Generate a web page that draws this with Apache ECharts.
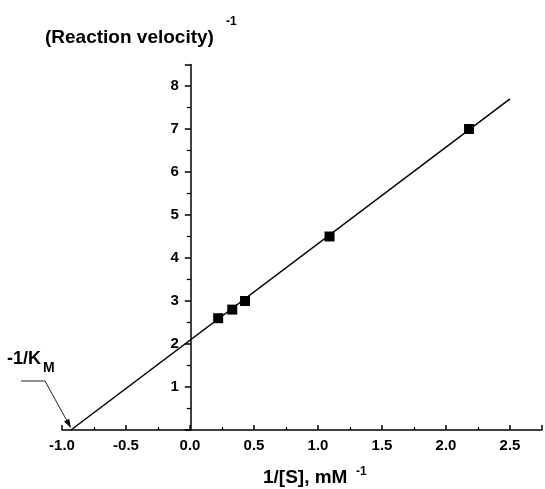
<!DOCTYPE html>
<html>
<head>
<meta charset="utf-8">
<script src="https://cdn.jsdelivr.net/npm/echarts@6/dist/echarts.min.js"></script>
<style>
  html, body { margin: 0; padding: 0; background: #fff; }
  #chart { width: 545px; height: 489px; }
</style>
</head>
<body>
<div id="chart"></div>
<script>
// Lineweaver-Burk data
const invSubstrate = [0.22, 0.33, 0.43, 1.09, 2.18];
const invVelocity = [2.6, 2.8, 3.0, 4.5, 7.0];
// fitted line end points
const fitX = [-0.93, 2.5];
const fitY = [0, 7.7];
const kmIntercept = -0.93;

const FONT = "'Liberation Sans', Arial, sans-serif";
const X_MIN = -1, X_MAX = 2.75;
const GRID_LEFT = 62, GRID_RIGHT = 0;
const W = 545;

// y axis sits at x = 0, so shift it right from the grid edge
const yShift = (W - GRID_LEFT - GRID_RIGHT) / (X_MAX - X_MIN) * (0 - X_MIN);

const chart = echarts.init(document.getElementById("chart"));

const option = {
  backgroundColor: "#fff",
  animation: false,
  grid: { left: GRID_LEFT, right: GRID_RIGHT, top: 64.5, bottom: 59 },
  xAxis: {
    type: "value",
    min: X_MIN,
    max: X_MAX,
    interval: 0.5,
    axisLine: { onZero: true, lineStyle: { color: "#000", width: 1.5 } },
    axisTick: { inside: true, length: 5, lineStyle: { color: "#000", width: 1.5 } },
    minorTick: { show: true, splitNumber: 2, length: 3, lineStyle: { color: "#000", width: 1.2 } },
    splitLine: { show: false },
    axisLabel: {
      margin: 8,
      color: "#000",
      fontSize: 15,
      fontWeight: "bold",
      fontFamily: FONT,
      formatter: (v) => (Math.abs(v * 2 - Math.round(v * 2)) < 1e-6 ? v.toFixed(1) : "")
    }
  },
  yAxis: {
    type: "value",
    min: 0,
    max: 8.5,
    interval: 1,
    offset: -yShift,
    axisLine: { onZero: false, lineStyle: { color: "#000", width: 1.5 } },
    axisTick: { inside: false, length: 6, lineStyle: { color: "#000", width: 1.5 } },
    minorTick: { show: true, splitNumber: 2, length: 4, lineStyle: { color: "#000", width: 1.2 } },
    splitLine: { show: false },
    axisLabel: {
      margin: 12,
      color: "#000",
      fontSize: 15,
      fontWeight: "bold",
      fontFamily: FONT,
      formatter: (v) => (v > 0 && Math.abs(v - Math.round(v)) < 1e-6 ? String(v) : "")
    }
  },
  series: [
    {
      type: "line",
      data: fitX.map((x, i) => [x, fitY[i]]),
      showSymbol: false,
      lineStyle: { color: "#000", width: 1.5 },
      clip: false,
      z: 2
    },
    {
      type: "scatter",
      data: invSubstrate.map((x, i) => [x, invVelocity[i]]),
      symbol: "rect",
      symbolSize: 10,
      itemStyle: { color: "#000", opacity: 1 },
      z: 3
    }
  ]
};
chart.setOption(option);

// annotation for -1/KM, arrow tip taken from the axis scale
const tip = chart.convertToPixel({ gridIndex: 0 }, [kmIntercept, 0]);
const tipX = tip[0], tipY = tip[1] - 2;
const elbow = [45, 381];
const dx = tipX - elbow[0], dy = tipY - elbow[1];
const len = Math.sqrt(dx * dx + dy * dy);
const ux = dx / len, uy = dy / len;
const headL = 9, headW = 3;
const bx = tipX - ux * headL, by = tipY - uy * headL;

chart.setOption({
  graphic: [
    {
      type: "text",
      left: 45, top: 28,
      style: { text: "(Reaction velocity)", fill: "#000", font: "bold 19px " + FONT }
    },
    {
      type: "text",
      left: 226, top: 16,
      style: { text: "-1", fill: "#000", font: "bold 12px " + FONT }
    },
    {
      type: "text",
      left: 263, top: 468,
      style: { text: "1/[S], mM", fill: "#000", font: "bold 19px " + FONT }
    },
    {
      type: "text",
      left: 356, top: 466,
      style: { text: "-1", fill: "#000", font: "bold 12px " + FONT }
    },
    {
      type: "text",
      left: 7, top: 350,
      style: { text: "-1/K", fill: "#000", font: "bold 18px " + FONT }
    },
    {
      type: "text",
      left: 43, top: 361,
      style: { text: "M", fill: "#000", font: "bold 14px " + FONT }
    },
    {
      type: "polyline",
      shape: { points: [[21, elbow[1]], elbow, [bx, by]] },
      style: { stroke: "#222", lineWidth: 1, fill: null }
    },
    {
      type: "polygon",
      shape: {
        points: [
          [tipX, tipY],
          [bx - uy * headW, by + ux * headW],
          [bx + uy * headW, by - ux * headW]
        ]
      },
      style: { fill: "#000" }
    }
  ]
});
</script>
</body>
</html>
